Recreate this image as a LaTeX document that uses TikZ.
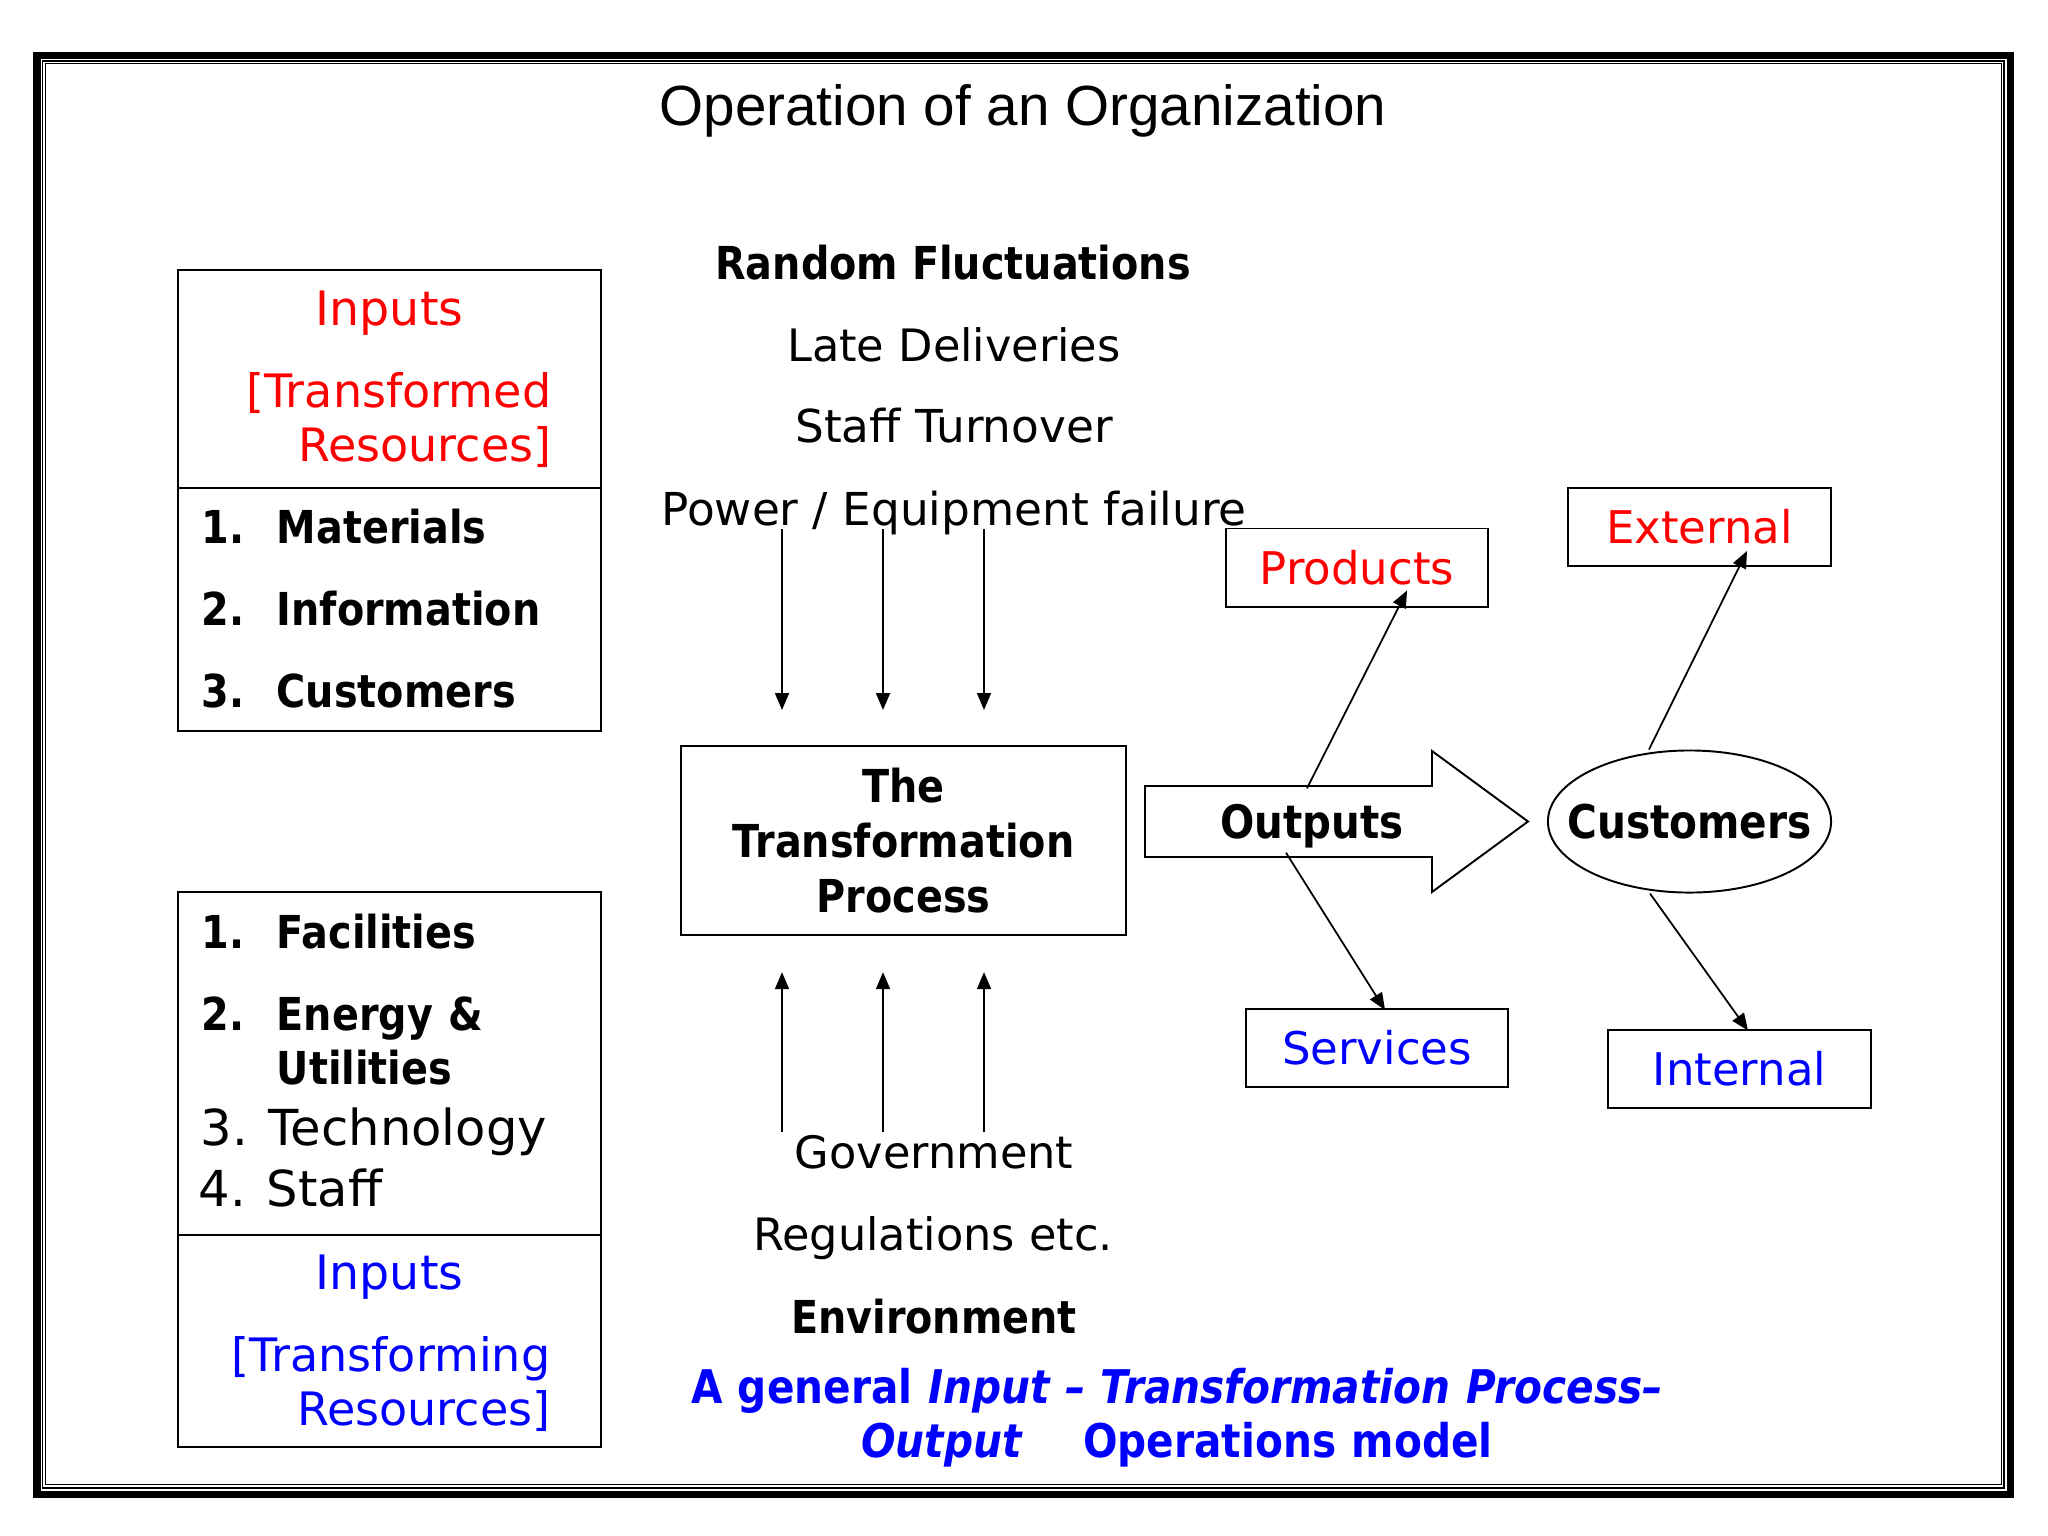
\documentclass[tikz,border=0pt]{standalone}
\usepackage{fontspec}
\setmainfont{DejaVu Sans}[BoldFeatures={FakeStretch=0.876},BoldItalicFeatures={FakeStretch=0.876}]
\newfontfamily\titlefont{Liberation Sans}
\definecolor{SlideRed}{HTML}{FF0000}
\definecolor{SlideBlue}{HTML}{0000FF}
\usepackage{tikz}
\usetikzlibrary{positioning, arrows.meta, shapes.geometric}

\begin{document}
\begin{tikzpicture}[x=0.01cm, y=-0.01cm,
    plain/.style={inner sep=0pt, font=\fontsize{12.7}{15.4}\selectfont},
    heavy/.style={inner sep=0pt, font=\fontsize{12.9}{15.6}\selectfont\bfseries},
    header/.style={inner sep=0pt, font=\fontsize{13.1}{15.4}\selectfont},
    panel/.style={draw, line width=0.55pt, inner sep=0pt, minimum width=4.23cm},
    tagbox/.style={draw, line width=0.55pt, inner sep=0pt, minimum width=2.62cm, minimum height=0.78cm,
                   text height=0.33cm, text depth=0pt, font=\fontsize{12.8}{15}\selectfont},
    arr/.style={line width=0.5pt, -{Triangle[length=0.17cm, width=0.14cm]}}]

  \fill[white] (0,0) rectangle (2048,1536);
  \useasboundingbox (0,0) rectangle (2048,1536);

  % slide frame
  \draw[line width=2pt] (37,55.7) rectangle (2010.7,1494);
  \draw[line width=0.43pt] (42.7,61.2) rectangle (2004,1488);
  \draw[line width=0.43pt] (45.7,63.7) rectangle (2001.3,1484.7);

  \node[inner sep=0pt, anchor=base, font=\titlefont\fontsize{16.1}{19}\selectfont] (title) at (1023,125)
    {Operation of an Organization};

  % transformed resources
  \node[panel, minimum height=2.18cm] (redhead) at (389.5,379) {};
  \node[panel, minimum height=2.43cm] (redlist) at (389.5,609.5) {};
  \node[header, font=\fontsize{13.5}{15.4}\selectfont, text=SlideRed, anchor=base] (redin) at (389.5,325) {Inputs};
  \node[header, text=SlideRed, text width=3.4cm, align=right, anchor=base east] (redsub) at (552,407)
    {[Transformed\hspace*{0.1cm}\\Resources]};
  \foreach \n/\what/\yy in {1/Materials/543, 2/Information/625, 3/Customers/707}
    \node[heavy, anchor=base west] (tr\n) at (201,\yy) {\makebox[0.75cm][l]{\n.}\what};

  % transforming resources
  \node[panel, minimum height=3.43cm] (bluelist) at (389.5,1063.5) {};
  \node[panel, minimum height=2.12cm] (bluehead) at (389.5,1341) {};
  \node[heavy, anchor=base west] (fac) at (201,948) {\makebox[0.75cm][l]{1.}Facilities};
  \node[heavy, anchor=base west, text width=3.8cm, align=left] (nrg) at (201,1030)
    {\makebox[0.75cm][l]{2.}Energy \&\\\hspace*{0.75cm}Utilities};
  \node[inner sep=0pt, anchor=base west, font=\fontsize{14.1}{17}\selectfont] (tech) at (200,1145) {3. Technology};
  \node[inner sep=0pt, anchor=base west, font=\fontsize{14.1}{17}\selectfont] (staff) at (198,1206) {4. Staff};
  \node[header, font=\fontsize{13.5}{15.4}\selectfont, text=SlideBlue, anchor=base] (bluein) at (389.5,1289) {Inputs};
  \node[header, text=SlideBlue, text width=3.4cm, align=right, anchor=base east] (bluesub) at (551,1371)
    {[Transforming\hspace*{0.03cm}\\Resources]};

  % random fluctuations
  \node[heavy, anchor=base] (random) at (953,279) {Random Fluctuations};
  \node[plain, anchor=base] (late) at (954,361) {Late Deliveries};
  \node[plain, font=\fontsize{12.9}{15.4}\selectfont, anchor=base] (turn) at (954,442) {Staff Turnover};
  \node[plain, font=\fontsize{12.9}{15.4}\selectfont, anchor=base] (power) at (954,525) {Power / Equipment failure};
  \foreach \dx in {-172,-71,30}
    \draw[arr] ([xshift=\dx*0.01cm, yshift=-0.04cm]power.base) -- ++(0,181);

  \node[draw, line width=0.55pt, heavy, align=center, minimum width=4.45cm, minimum height=1.89cm] (trans)
    at (903.5,840.5) {The\\Transformation\\Process};

  % environment
  \node[plain, anchor=base] (gov) at (934,1168) {Government};
  \node[plain, anchor=base] (regs) at (933,1250) {Regulations etc.};
  \node[heavy, anchor=base] (env) at (934,1333) {Environment};
  \foreach \dx in {-152,-51,50}
    \draw[arr] ([xshift=\dx*0.01cm, yshift=0.02cm]gov.north) -- ++(0,-160);

  % outputs
  \draw[line width=0.55pt] (1145,786) -- (1432,786) -- (1432,751) -- (1528,821.5)
    -- (1432,892) -- (1432,857) -- (1145,857) -- cycle;
  \node[inner sep=0pt, font=\fontsize{13.1}{15}\selectfont\bfseries, text height=0.33cm, text depth=0pt,
        minimum height=0.71cm] (outputs) at (1312,821.5) {Outputs};
  \node[ellipse, draw, line width=0.55pt, inner sep=0pt, minimum width=2.83cm, minimum height=1.42cm] (cust)
    at (1689.5,821.5) {};
  \node[inner sep=0pt, font=\fontsize{13.2}{15}\selectfont\bfseries, text height=0.33cm, text depth=0pt] (custlabel)
    at (cust.center) {Customers};

  \node[tagbox, text=SlideRed] (prod) at (1357,567.5) {Products};
  \node[tagbox, text=SlideRed] (ext) at (1699.5,527) {External};
  \node[tagbox, text=SlideBlue] (serv) at (1377,1048) {Services};
  \node[tagbox, text=SlideBlue] (intl) at (1739.5,1069) {Internal};

  \draw[arr] ([xshift=-0.05cm, yshift=-0.03cm]outputs.north) -- ([xshift=0.5cm, yshift=0.17cm]prod.south);
  \draw[arr] ([xshift=-0.26cm, yshift=0.05cm]outputs.south) -- ([xshift=0.08cm, yshift=-0.02cm]serv.north);
  \draw[arr] ([xshift=-0.405cm]cust.north) -- ([xshift=0.475cm, yshift=0.16cm]ext.south);
  \draw[arr] ([xshift=-0.395cm]cust.south) -- ([xshift=0.085cm, yshift=-0.015cm]intl.north);

  \node[inner sep=0pt, text=SlideBlue, font=\fontsize{13.2}{15.4}\selectfont\bfseries, text width=12cm,
        align=center, anchor=base] (caption) at (1177,1403)
    {A general \textit{Input -- Transformation Process--}\\\textit{Output}\hspace{0.6cm}Operations model};
\end{tikzpicture}
\end{document}
